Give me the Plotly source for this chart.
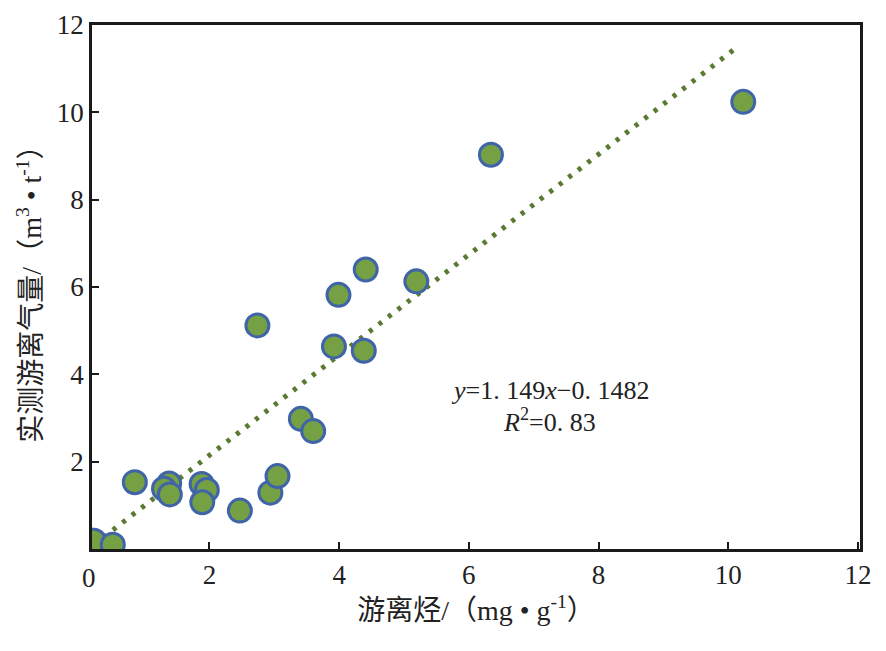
import plotly.graph_objects as go

free_hc = [0.22, 0.51, 0.85, 1.38, 1.30, 1.39, 1.88, 1.96, 1.89, 2.47, 2.94,
           3.05, 3.41, 3.60, 2.74, 3.92, 4.38, 3.99, 5.19, 4.41, 6.34, 10.23]
free_gas = [0.19, 0.10, 1.53, 1.50, 1.38, 1.25, 1.49, 1.35, 1.07, 0.88, 1.29,
            1.67, 2.98, 2.70, 5.12, 4.64, 4.54, 5.82, 6.13, 6.40, 9.03, 10.24]

# fitted line y = 1.149x - 0.1482, end points as drawn
fit_x = [0.22, 10.15]
fit_y = [0.10, 11.51]

tick_vals = [2, 4, 6, 8, 10, 12]
tick_text = ["2", "4", "6", "8", "10", "12"]

FONT = "'Liberation Serif', 'Noto Sans CJK SC', serif"

fig = go.Figure()

fig.add_trace(go.Scatter(
    x=fit_x, y=fit_y, mode="lines",
    line=dict(color="#5b7a31", width=5, dash="4px,8px"),
    showlegend=False, hoverinfo="skip",
))

fig.add_trace(go.Scatter(
    x=free_hc, y=free_gas, mode="markers",
    marker=dict(size=23, color="#76a044", line=dict(color="#3f64a8", width=3)),
    showlegend=False,
))

fig.add_annotation(
    x=0.596, y=0.303, xref="paper", yref="paper", yanchor="middle",
    text="<i>y</i>=1. 149<i>x</i>−0. 1482",
    showarrow=False, font=dict(family=FONT, size=26, color="#222"),
)
fig.add_annotation(
    x=0.596, y=0.245, xref="paper", yref="paper", yanchor="middle",
    text="<i>R</i><sup>2</sup>=0. 83",
    showarrow=False, font=dict(family=FONT, size=26, color="#222"),
)

# the "0" label sits left of the plot frame in the original
fig.add_annotation(
    x=-0.016, y=0, xref="paper", yref="paper", yanchor="top", yshift=-12,
    text="0", showarrow=False, font=dict(family=FONT, size=27, color="#222"),
)

fig.update_layout(
    width=870, height=635,
    margin=dict(l=84, r=18, t=17, b=94),
    plot_bgcolor="white", paper_bgcolor="white",
    font=dict(family=FONT, size=27, color="#222"),
    xaxis=dict(
        range=[0.19, 12.03], tickvals=tick_vals, ticktext=tick_text,
        ticks="inside", ticklen=7, tickwidth=2, tickcolor="#1a1a1a",
        showline=True, linewidth=2.5, linecolor="#1a1a1a", mirror=True,
        showgrid=False, zeroline=False, automargin=False,
        title=dict(text="游离烃/（mg • g<sup>-1</sup>）", standoff=12,
                   font=dict(size=28)),
    ),
    yaxis=dict(
        range=[0, 12], tickvals=tick_vals, ticktext=tick_text,
        ticks="inside", ticklen=7, tickwidth=2, tickcolor="#1a1a1a",
        showline=True, linewidth=2.5, linecolor="#1a1a1a", mirror=True,
        showgrid=False, zeroline=False, automargin=False,
        title=dict(text="实测游离气量/（m<sup>3</sup> • t<sup>-1</sup>）", standoff=8,
                   font=dict(size=28)),
    ),
)

fig.write_html("out.html")
